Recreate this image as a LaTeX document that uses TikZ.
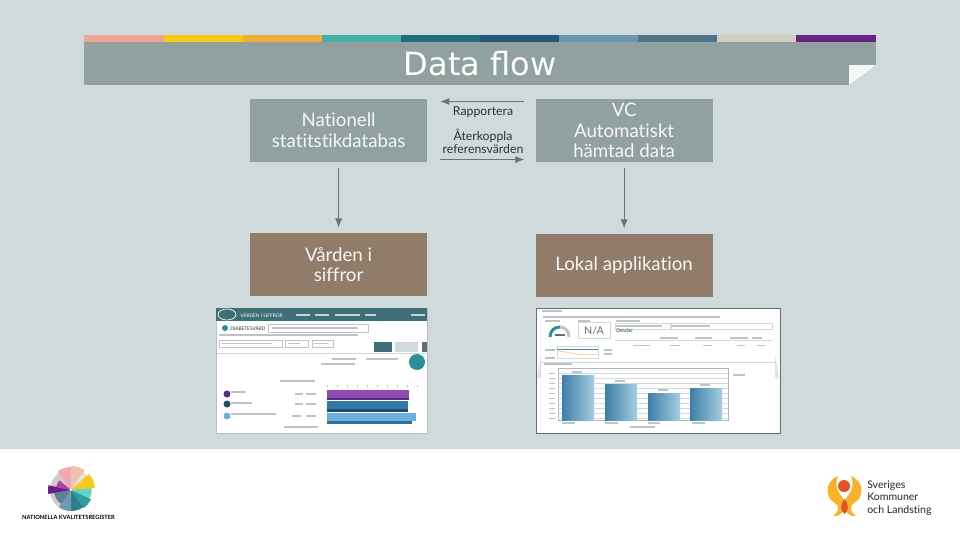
\documentclass[tikz,border=0pt]{standalone}
\usepackage{fontspec}
\setmainfont[Ligatures=NoCommon]{Lato}
\newfontfamily\titlefont{DejaVu Sans}
\usepackage{xcolor}
\usetikzlibrary{arrows.meta,positioning,calc}
\definecolor{slBack}{RGB}{208,218,220}
\definecolor{slGray}{RGB}{145,161,159}
\definecolor{slBrown}{RGB}{145,124,106}
\definecolor{slLine}{RGB}{105,117,119}
\definecolor{slText}{RGB}{245,246,245}
\definecolor{slInk}{RGB}{45,50,50}
\definecolor{slTeal}{RGB}{62,110,118}
\definecolor{slFrame}{RGB}{95,110,112}
\definecolor{slGreek}{RGB}{190,196,198}
\definecolor{skYellow}{RGB}{247,178,40}
\definecolor{skRed}{RGB}{226,84,38}
\definecolor{barPurple}{RGB}{142,75,176}
\definecolor{barPurpleDk}{RGB}{88,42,128}
\definecolor{barBlue}{RGB}{47,120,168}
\definecolor{barBlueDk}{RGB}{30,78,112}
\definecolor{barLight}{RGB}{108,176,221}
\definecolor{barLightDk}{RGB}{48,110,155}
\definecolor{chartDk}{RGB}{62,126,168}
\definecolor{chartLt}{RGB}{165,205,226}
\definecolor{gaugeTeal}{RGB}{44,142,151}

\begin{document}
\begin{tikzpicture}[
  x=0.75pt, y=-0.75pt,
  greybox/.style={fill=slGray, text=slText, align=center, minimum width=132.75pt, minimum height=47.6pt, inner sep=0pt, font=\fontsize{14}{15.5}\selectfont},
  brownbox/.style={greybox, fill=slBrown},
  titlebar/.style={fill=slGray, text=white, minimum width=594pt, minimum height=32.25pt, inner sep=0pt, font=\titlefont\fontsize{24}{26}\selectfont},
  lbl/.style={text=slInk, align=center, inner sep=0pt, font=\fontsize{9.2}{9.6}\selectfont},
  shot/.style={fill=white, draw=slFrame, line width=0.6pt, inner sep=0pt},
  tiny/.style={text=#1, inner sep=0pt, font=\fontsize{3.6}{4}\selectfont},
  greek/.style={draw=slGreek, line width=0.9pt},
  arr/.style={-{Latex[length=2.4mm,width=1.9mm]}, line width=0.75pt, draw=slLine}
]
\useasboundingbox (0,0) rectangle (960,540);
\fill[white] (0,0) rectangle (960,540);
\fill[slBack] (0,0) rectangle (960,449);

% colour strip and title
\foreach \xa/\xb/\col in {84/164/F0A594, 164/243/F7CB15, 243/322/F0AE36, 322/401/45B0A4, 401/480/1F6F7C, 480/559/24597A, 559/638/6C97B1, 638/717/517389, 717/796/D5CCBE, 796/876/662483}{
  \definecolor{stripCol}{HTML}{\col}
  \fill[stripCol] (\xa,35) rectangle (\xb,42);
}
\node[titlebar] (titleBar) at (480,63.5) {Data flow};
\fill[slBack] (876,65) -- (876,85) -- (849,85) -- cycle;
\fill[white!92!slGray] (849,65) -- (876,65) -- (849,85) -- cycle;

% boxes
\node[greybox] (nationell) at (338.6,130.5) {Nationell\\statitstikdatabas};
\node[greybox, right=81pt of nationell] (vc) {VC\\Automatiskt\\hämtad data};
\node[brownbox, below=52.5pt of nationell] (varden) {Vården i\\siffror};
\node[brownbox, below=53.2pt of vc] (lokal) {Lokal applikation};

\node[lbl] (rapportera) at (483,112) {Rapportera};
\node[lbl] (aterkoppla) at (483,141) {Återkoppla\\referensvärden};

\draw[arr] ([shift={(-11,3)}]vc.north west) -- ([shift={(13,3)}]nationell.north east);
\draw[arr] ([shift={(13,-3)}]nationell.south east) -- ([shift={(-11,-3)}]vc.south west);
\draw[arr, shorten <=3.75pt, shorten >=3.75pt] (nationell) -- (varden);
\draw[arr, shorten <=3.75pt, shorten >=3.75pt] (vc) -- (lokal);

% left screenshot
\node[shot, draw=slFrame!45!white, minimum width=158.25pt, minimum height=93.75pt, anchor=north west] (leftShot) at (216,308) {};
\fill[slTeal] (leftShot.north west) rectangle (427,321);
\draw[white, line width=0.5pt] (227,314.5) ellipse (9 and 5.5);
\node[tiny=white, anchor=west] (leftName) at (240,315) {VÅRDEN I SIFFROR};
\foreach \xa/\xb in {296/310, 315/329, 335/360, 365/376, 411/425}{
  \draw[white!70!slTeal, line width=0.8pt] (\xa,315) -- (\xb,315);
}
\fill[gaugeTeal] (225,328) circle (3);
\node[tiny=slInk, anchor=west] (leftArea) at (230,328) {DIABETESVÅRD};
\draw[slGreek, line width=0.5pt] (268,324) rectangle (368,332);
\foreach \xa/\xb/\yy in {272/358/328, 219/358/335, 222/272/343.5, 288/300/343.5, 314/328/343.5, 332/356/359, 366/398/359, 321/355/364, 280/315/381, 231/246/392, 231/252/403, 231/276/414, 295/303/394, 295/303/404, 292/301/416, 306/316/394, 306/316/404, 306/316/416, 284/318/427}{
  \draw[greek] (\xa,\yy) -- (\xb,\yy);
}
\draw[slGreek, line width=0.5pt] (219,340) rectangle (282,347);
\draw[slGreek, line width=0.5pt] (285,340) rectangle (308,347);
\draw[slGreek, line width=0.5pt] (312,340) rectangle (333,347);
\fill[slTeal] (374,342) rectangle (392,352);
\fill[slBack] (395,342) rectangle (418,352);
\fill[slFrame] (422,342) rectangle (427,352);
\draw[slBack, line width=0.5pt] (217,353) -- (427,353);
\fill[gaugeTeal] (417,362) circle (8);
\foreach \xx in {327,337,...,417}{ \draw[slGreek, line width=0.6pt] (\xx,385) -- (\xx,387); }
\fill[barPurpleDk] (227,394) circle (3.5);
\fill[barBlueDk] (227,404) circle (3.5);
\fill[barLight] (227,416) circle (3.5);
\fill[barPurple] (327,390) rectangle (409,398);
\fill[barPurpleDk] (327,398) rectangle (409,400);
\fill[barBlue] (327,401) rectangle (408,409);
\fill[barBlueDk] (327,409) rectangle (408,412);
\fill[barLight] (327,413) rectangle (416,421);
\fill[barLightDk] (327,421) rectangle (412,424);

% right screenshot
\node[shot, minimum width=183pt, minimum height=93.75pt, anchor=north west] (rightShot) at (536,308) {};
\fill[slBack!70!white] (537,378) -- (541,355) -- (541,378) -- cycle;
\fill[slBack!70!white] (779,378) -- (775,355) -- (775,378) -- cycle;
\foreach \xa/\xb/\yy in {542/562/311, 543/720/317, 545/560/321, 578/590/321, 616/640/321, 616/662/326, 672/710/326, 633/650/345.5, 670/680/345.5, 703/712/345.5, 737/745/345.5, 757/765/345.5, 660/678/338, 695/712/338, 730/748/338, 752/762/338, 544/572/364, 733/745/375, 562/575/423, 605/618/423, 648/660/423, 692/705/423, 630/655/427}{
  \draw[greek] (\xa,\yy) -- (\xb,\yy);
}
\draw[slBack, line width=0.4pt] (578,322) rectangle (610,338);
\draw[slBack, line width=0.4pt] (615,323) rectangle (670,329);
\draw[slBack, line width=0.4pt] (671,323) rectangle (772,329);
\draw[slBack, line width=0.4pt] (615,340) -- (772,340);
\node[text=slInk!70!white, inner sep=0pt, font=\fontsize{8}{9}\selectfont] (naLabel) at (594,331) {N/A};
\node[tiny=slInk, anchor=west] (detailLabel) at (616,331) {Detaljer};
\draw[gaugeTeal, line width=2.2pt] (550,337) .. controls (550,331) and (554,327) .. (560,327);
\draw[slGreek, line width=2.2pt] (560,327) .. controls (565,327) and (569,331) .. (569,337);
\draw[slFrame, line width=0.9pt] (555,335) -- (565,335);
\draw[slBack, line width=0.4pt] (557,346) rectangle (598,358);
\draw[gaugeTeal, line width=0.5pt] (557,349) -- (598,349);
\draw[orange!60!white, line width=0.4pt] (558,351) .. controls (572,352) and (578,357) .. (597,354);
\foreach \xa/\xb/\yy in {545/555/350, 545/555/358, 604/612/350, 604/612/354}{ \draw[greek] (\xa,\yy) -- (\xb,\yy); }
\draw[slBack, line width=0.5pt] (540,362) -- (777,362);
\draw[slFrame!50!white, line width=0.5pt] (558,368) rectangle (728,420);
\foreach \yy in {373,378,...,418}{
  \draw[slBack, line width=0.35pt] (558,\yy) -- (728,\yy);
  \draw[greek, line width=0.6pt] (549,\yy) -- (555,\yy);
}
\foreach \xa/\xb/\yy in {562/594/375, 605/637/384, 648/680/393, 690/722/388}{
  \shade[left color=chartDk, right color=chartLt] (\xa,\yy) rectangle (\xb,420);
  \draw[greek] ({\xa+10},{\yy-3}) -- ({\xb-12},{\yy-3});
}

% kvalitetsregister logo
\definecolor{wedgeBase}{HTML}{D2CEC6}
\fill[wedgeBase] (71,490) circle (21);
\foreach \sa/\sb/\rr/\col in {125/90/23/F3A6B4, 90/55/24/EDC2B0, 55/42/20/E9E5DC, 42/5/24/F9C81E, 5/-25/20/64D4C4, -25/-55/22/2E9E9E, -55/-90/21/2A7F8A, -90/-125/21/6A9DB2, -125/-170/17/5E7F95, 190/168/23/6A1E8C, 168/140/15/B03EA8}{
  \definecolor{wedgeCol}{HTML}{\col}
  \fill[wedgeCol] (71,490) -- +(-\sa:\rr) -- +({-(3*\sa+\sb)/4}:\rr) -- +({-(\sa+\sb)/2}:\rr) -- +({-(\sa+3*\sb)/4}:\rr) -- +(-\sb:\rr) -- cycle;
}
\fill[white] (71,490) circle (1.2);
\node[text=black, inner sep=0pt, font=\fontsize{4.3}{5}\selectfont\bfseries] (nkName) at (68.5,517) {NATIONELLA KVALITETSREGISTER};

% skl logo
\fill[skYellow] (838,476) .. controls (824,482) and (825,498) .. (835,503) .. controls (840,506) and (839,512) .. (833,516) .. controls (842,517) and (847,508) .. (844,500) .. controls (841,494) and (833,490) .. (838,476) -- cycle;
\fill[skYellow] (851,476) .. controls (865,482) and (864,498) .. (854,503) .. controls (849,506) and (850,512) .. (856,516) .. controls (847,517) and (842,508) .. (845,500) .. controls (848,494) and (856,490) .. (851,476) -- cycle;
\fill[skRed] (844,486) circle (6);
\fill[skRed] (844.5,499) .. controls (840,505) and (840,510) .. (844.5,514) .. controls (849,510) and (849,505) .. (844.5,499) -- cycle;
\node[text=black!85, align=left, anchor=west, inner sep=0pt, font=\fontsize{7.9}{9.2}\selectfont] (sklName) at (867,498) {Sveriges\\Kommuner\\och Landsting};
\end{tikzpicture}
\end{document}
